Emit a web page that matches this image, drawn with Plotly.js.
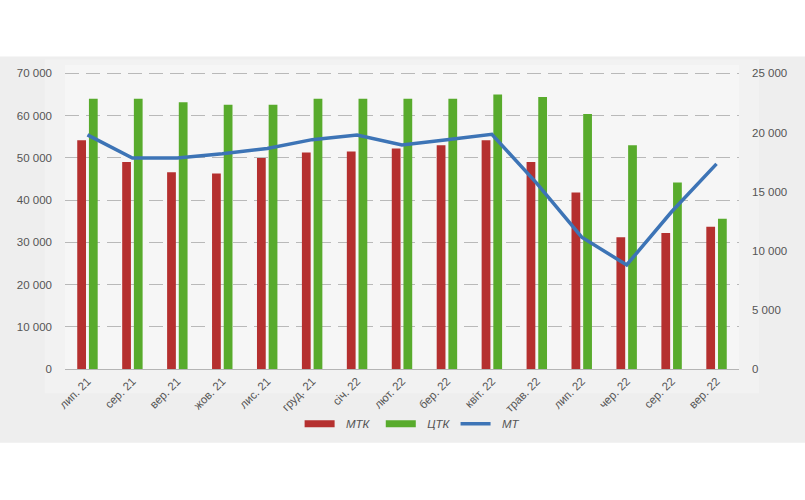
<!DOCTYPE html>
<html>
<head>
<meta charset="utf-8">
<script src="https://cdn.plot.ly/plotly-3.0.1.min.js"></script>
<style>html,body{margin:0;padding:0;background:#fff;}#chart{width:805px;height:500px;}</style>
</head>
<body>
<div id="chart"></div>
<script>
var categories = ["лип. 21","сер. 21","вер. 21","жов. 21","лис. 21","груд. 21","січ. 22","лют. 22","бер. 22","квіт. 22","трав. 22","лип. 22","чер. 22","сер. 22","вер. 22"];
var mtk = [54200, 49000, 46600, 46300, 50000, 51300, 51500, 52200, 53000, 54200, 49000, 41800, 31200, 32200, 33700];
var ctk = [64000, 64000, 63200, 62600, 62600, 64000, 64000, 64000, 64000, 65000, 64400, 60400, 53000, 44200, 35600];
var mt  = [19800, 17850, 17850, 18200, 18650, 19400, 19800, 18950, 19400, 19850, 15700, 11150, 8800, 13300, 17350];
var leftTicks = [0, 10000, 20000, 30000, 40000, 50000, 60000, 70000];
var rightTicks = [0, 5000, 10000, 15000, 20000, 25000];
var seriesNames = ["МТК", "ЦТК", "МТ"];
var seriesColors = ["#b5302f", "#58ab2c", "#3d74b6"];

var FONT = "'Liberation Sans Narrow', 'Liberation Sans', Arial, sans-serif";
var PAD = "\u00A0\u00A0";

var traces = [
  {type:'bar', name:seriesNames[0], x:categories, y:mtk, marker:{color:seriesColors[0]}, yaxis:'y', showlegend:false},
  {type:'bar', name:seriesNames[1], x:categories, y:ctk, marker:{color:seriesColors[1]}, yaxis:'y', showlegend:false},
  {type:'scatter', mode:'lines', name:seriesNames[2], x:categories, y:mt, yaxis:'y2', line:{color:seriesColors[2], width:3.5}, showlegend:false},
  // legend-only entries: a single null value, so nothing is drawn in the plot
  {type:'scatter', mode:'lines', name:PAD + seriesNames[0] + PAD, x:[categories[0]], y:[null], line:{color:seriesColors[0], width:7}},
  {type:'scatter', mode:'lines', name:PAD + seriesNames[1], x:[categories[0]], y:[null], line:{color:seriesColors[1], width:7}},
  {type:'scatter', mode:'lines', name:PAD + seriesNames[2], x:[categories[0]], y:[null], line:{color:seriesColors[2], width:3.5}}
];

var layout = {
  width:805, height:500,
  margin:{l:65, r:66, t:64.5, b:131},
  paper_bgcolor:'#ffffff',
  plot_bgcolor:'rgba(0,0,0,0)',
  font:{family:FONT, size:11.5, color:'#555555'},
  separators:', ',
  barmode:'group',
  bargap:0.48,
  bargroupgap:0.25,
  showlegend:true,
  legend:{orientation:'h', x:0.515, xanchor:'center', y:-0.18, yanchor:'middle',
          font:{family:FONT, size:11.5, color:'#555555', style:'italic'}, bgcolor:'rgba(0,0,0,0)',
          itemwidth:30, traceorder:'normal'},
  xaxis:{type:'category', tickangle:-45, showline:true, linecolor:'#b5b5b5', linewidth:1.2,
         ticks:'', showgrid:false, tickfont:{family:FONT, size:11.5, color:'#555555'}, fixedrange:true},
  yaxis:{range:[0,72000], tickvals:leftTicks, tickformat:',d', showgrid:true, gridcolor:'#b9b9b9',
         griddash:'14px,7px', gridwidth:1, zeroline:false, ticks:'', ticklabelstandoff:12,
         tickfont:{family:FONT, size:11.5, color:'#555555'}, fixedrange:true},
  yaxis2:{range:[0,25714.29], tickvals:rightTicks, tickformat:',d', overlaying:'y', side:'right',
          showgrid:false, zeroline:false, ticks:'', ticklabelstandoff:12,
          tickfont:{family:FONT, size:11.5, color:'#555555'}, fixedrange:true},
  shapes:[
    {type:'rect', xref:'paper', yref:'paper', x0:-0.2, x1:1.2, y0:-0.243, y1:1.028, layer:'below',
     fillcolor:'#eeeeee', line:{width:0}},
    {type:'rect', xref:'paper', yref:'paper', x0:-0.03, x1:1.03, y0:-0.08, y1:1.018, layer:'below',
     fillcolor:'#f2f2f2', line:{width:0}},
    {type:'rect', xref:'paper', yref:'paper', x0:0.0, x1:1.0, y0:0.0, y1:1.0, layer:'below',
     fillcolor:'#f6f6f6', line:{width:0}}
  ]
};

Plotly.newPlot('chart', traces, layout, {displayModeBar:false, staticPlot:true});
</script>
</body>
</html>
